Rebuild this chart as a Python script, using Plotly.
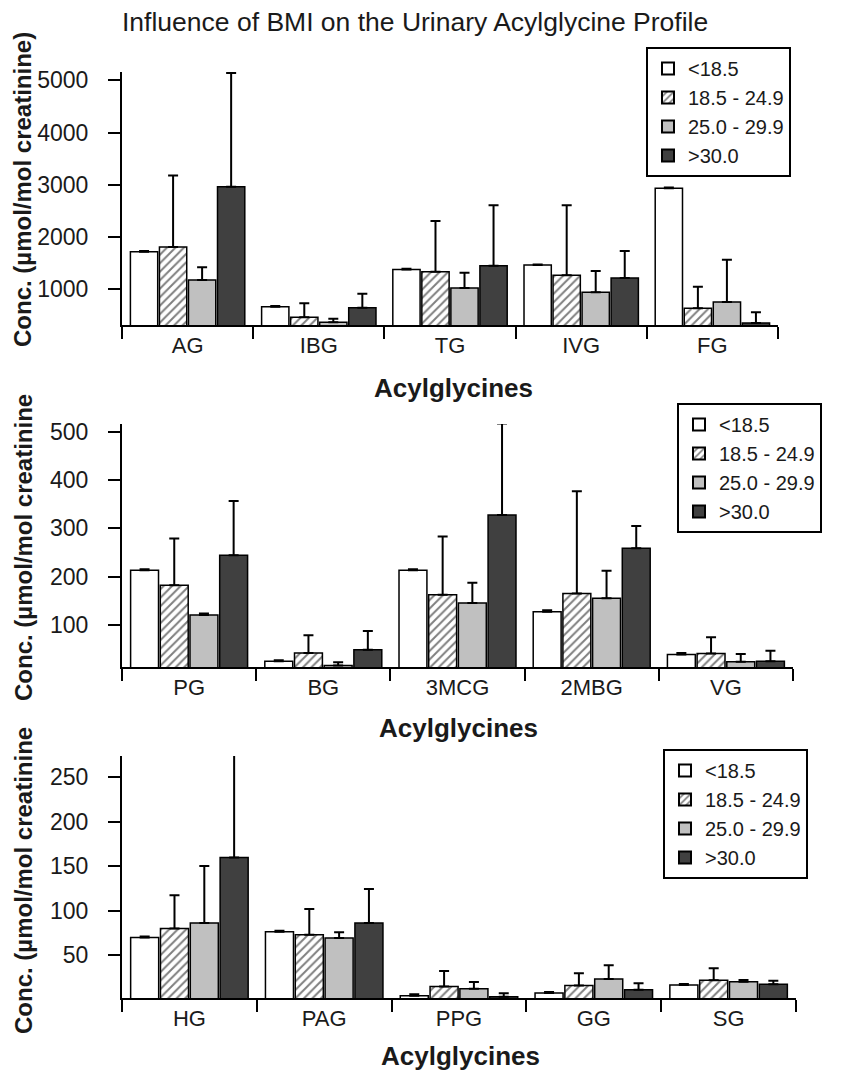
import plotly.graph_objects as go

# The page body adds an 8px margin; the figure is sized so it ends at the window edge.
OFF = 8
W, H = 841 - OFF, 1071 - OFF

groups = ["<18.5", "18.5 - 24.9", "25.0 - 29.9", ">30.0"]

# Panel 1
cats1 = ["AG", "IBG", "TG", "IVG", "FG"]
p1_lt185 = [1720, 667, 1380, 1465, 2935]
p1_lt185_err = [15, 13, 15, 13, 15]
p1_185_249 = [1810, 465, 1337, 1268, 637]
p1_185_249_err = [1370, 267, 969, 1344, 413]
p1_250_299 = [1178, 369, 1025, 943, 757]
p1_250_299_err = [243, 69, 292, 407, 809]
p1_gt30 = [2962, 648, 1451, 1216, 356]
p1_gt30_err = [2178, 268, 1161, 517, 204]

# Panel 2
cats2 = ["PG", "BG", "3MCG", "2MBG", "VG"]
p2_lt185 = [213, 24, 213, 127, 38]
p2_lt185_err = [2, 2, 2, 3, 3]
p2_185_249 = [182, 41, 162, 165, 40]
p2_185_249_err = [97, 37, 121, 212, 34]
p2_250_299 = [120, 15, 145, 155, 23]
p2_250_299_err = [3, 7, 42, 57, 16]
p2_gt30 = [244, 48, 328, 259, 24]
p2_gt30_err = [113, 39, 190, 46, 22]

# Panel 3
cats3 = ["HG", "PAG", "PPG", "GG", "SG"]
p3_lt185 = [70, 76.6, 4.6, 7.6, 16.6]
p3_lt185_err = [1, 1, 1.5, 1.2, 1.2]
p3_185_249 = [80, 73, 14.8, 16, 21.9]
p3_185_249_err = [37.4, 29, 17.6, 13.8, 13.5]
p3_250_299 = [86.3, 69.5, 12.5, 23.4, 20.4]
p3_250_299_err = [64, 6.3, 7.5, 15.4, 1.9]
p3_gt30 = [160, 86.3, 3.5, 11.4, 17.4]
p3_gt30_err = [115, 38.2, 3.8, 7.1, 4.1]

yticks1 = [1000, 2000, 3000, 4000, 5000]
yticks2 = [100, 200, 300, 400, 500]
yticks3 = [50, 100, 150, 200, 250]

FONT = "Arial, Liberation Sans, sans-serif"


def fx(px):
    return (px - OFF) / W


def fy(py):
    return 1 - (py - OFF) / H


panels = [
    dict(cats=cats1, vals=[p1_lt185, p1_185_249, p1_250_299, p1_gt30],
         errs=[p1_lt185_err, p1_185_249_err, p1_250_299_err, p1_gt30_err],
         xpx=(122, 778), ypx=(72, 325), yrange=(318, 5160), yticks=yticks1,
         legend=(646, 47), ytitle="Conc. (µmol/mol creatinine)", ytitle_y=190, xtitle_y=388, xtitle_x=453),
    dict(cats=cats2, vals=[p2_lt185, p2_185_249, p2_250_299, p2_gt30],
         errs=[p2_lt185_err, p2_185_249_err, p2_250_299_err, p2_gt30_err],
         xpx=(122, 793), ypx=(424, 667), yrange=(12, 517), yticks=yticks2,
         legend=(677, 403), ytitle="Conc. (µmol/mol creatinine", ytitle_y=548, xtitle_y=728, xtitle_x=458),
    dict(cats=cats3, vals=[p3_lt185, p3_185_249, p3_250_299, p3_gt30],
         errs=[p3_lt185_err, p3_185_249_err, p3_250_299_err, p3_gt30_err],
         xpx=(122, 796), ypx=(756, 998), yrange=(2, 274), yticks=yticks3,
         legend=(663, 749), ytitle="Conc. (µmol/mol creatinine", ytitle_y=881, xtitle_y=1056, xtitle_x=460),
]

fills = ["white", "white", "#c0c0c0", "#404040"]
patterns = [None, "/", None, None]

fig = go.Figure()
layout = dict(width=W, height=H, margin=dict(l=0, r=0, t=0, b=0, autoexpand=False),
              paper_bgcolor="white", plot_bgcolor="white",
              barmode="group", bargap=0.115, bargroupgap=0.06,
              font=dict(family=FONT, color="#1a1a1a"), showlegend=True)
annotations = []

for i, p in enumerate(panels):
    n = "" if i == 0 else str(i + 1)
    xa, ya = "x" + n, "y" + n
    legname = "legend" + n
    for g in range(4):
        pat = dict(shape=patterns[g], fgcolor="black", bgcolor="white", size=6, solidity=0.33) if patterns[g] else None
        fig.add_trace(go.Bar(
            x=p["cats"], y=p["vals"][g], name=groups[g], xaxis=xa, yaxis=ya, legend=legname,
            marker=dict(color=fills[g], line=dict(color="black", width=1.5), pattern=pat),
            error_y=dict(type="data", array=p["errs"][g], arrayminus=[0] * len(p["cats"]),
                         symmetric=False, color="black", thickness=2, width=5),
        ))
    x0, x1 = p["xpx"]
    y0, y1 = p["ypx"]
    layout["xaxis" + n] = dict(
        domain=[fx(x0), fx(x1)], anchor=ya, type="category", showline=True, linecolor="black",
        linewidth=2, ticks="outside", tickson="boundaries", ticklen=12, tickwidth=2, tickcolor="black",
        tickfont=dict(size=22, family=FONT, color="#1a1a1a"), showgrid=False, zeroline=False,
        fixedrange=True)
    layout["yaxis" + n] = dict(
        domain=[fy(y1), fy(y0)], anchor=xa, range=list(p["yrange"]), tickvals=p["yticks"],
        showline=True, linecolor="black", linewidth=2, ticks="outside", ticklen=12, tickwidth=2,
        tickcolor="black", tickfont=dict(size=23, family=FONT, color="#1a1a1a"),
        showgrid=False, zeroline=False, ticklabelstandoff=15, fixedrange=True)
    lx, ly = p["legend"]
    layout[legname] = dict(x=fx(lx), y=fy(ly), xanchor="left", yanchor="top", xref="paper", yref="paper",
                           bordercolor="black", borderwidth=2, bgcolor="white",
                           font=dict(size=20, family=FONT, color="#1a1a1a"), itemsizing="constant")
    annotations.append(dict(text="<b>" + p["ytitle"] + "</b>", x=fx(23), y=fy(p["ytitle_y"]),
                            xref="paper", yref="paper", showarrow=False, textangle=-90,
                            font=dict(size=24, family=FONT, color="#1a1a1a"), xanchor="center", yanchor="middle"))
    annotations.append(dict(text="<b>Acylglycines</b>", x=fx(p["xtitle_x"]), y=fy(p["xtitle_y"]),
                            xref="paper", yref="paper", showarrow=False,
                            font=dict(size=26, family=FONT, color="#1a1a1a"), xanchor="center", yanchor="middle"))

annotations.append(dict(text="Influence of BMI on the Urinary Acylglycine Profile", x=fx(415), y=fy(22),
                        xref="paper", yref="paper", showarrow=False,
                        font=dict(size=26.5, family=FONT, color="#1a1a1a"), xanchor="center", yanchor="middle"))
layout["annotations"] = annotations
fig.update_layout(**layout)
fig.write_html("out.html")
